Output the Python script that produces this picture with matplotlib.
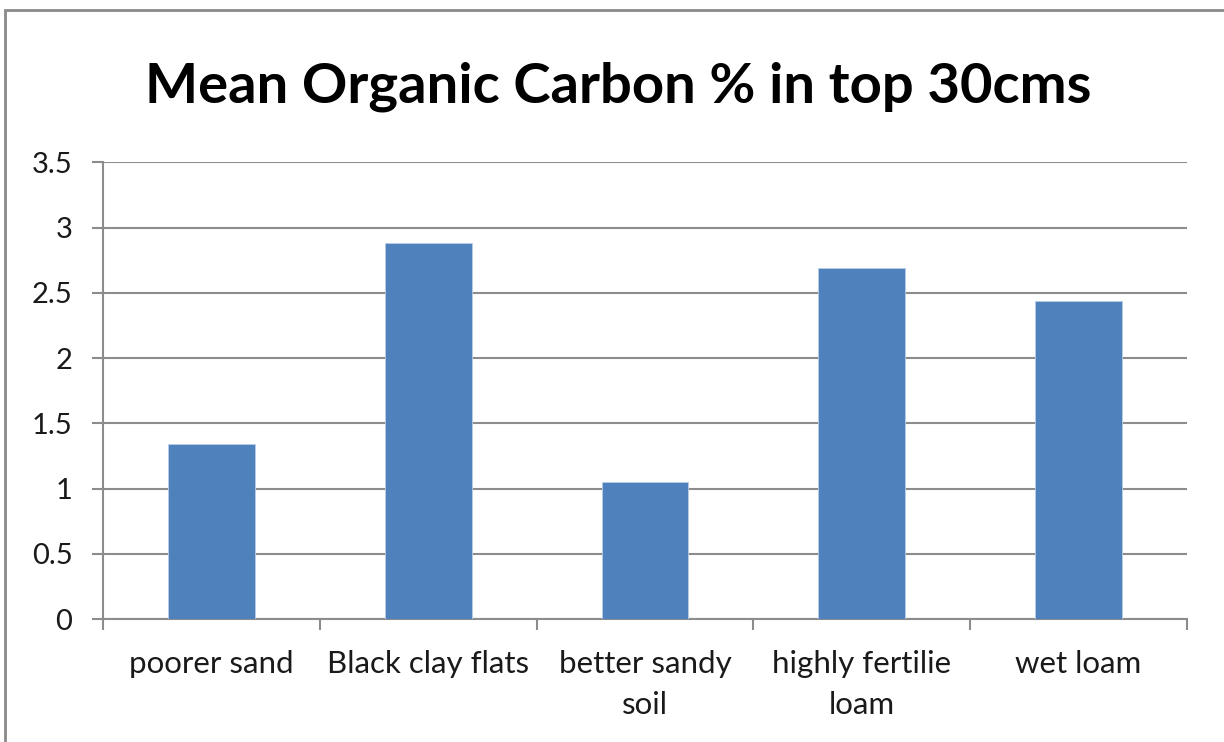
import matplotlib.pyplot as plt
from matplotlib.patches import Rectangle

# Mean organic carbon (%) in the top 30 cm for each soil type
soils = ["poorer sand", "Black clay flats", "better sandy\nsoil",
         "highly fertilie\nloam", "wet loam"]
carbon = [1.34, 2.88, 1.05, 2.69, 2.44]
yticks = [0, 0.5, 1, 1.5, 2, 2.5, 3, 3.5]
ylabels = ["0", "0.5", "1", "1.5", "2", "2.5", "3", "3.5"]

plt.rcParams['font.family'] = ['Lato', 'DejaVu Sans']
grey = '#8c8c8c'

fig = plt.figure(figsize=(12.24, 7.42), dpi=100)
ax = fig.add_axes([103 / 1224, 1 - 619.3 / 742, 1084 / 1224, (619.3 - 162.2) / 742])

x = range(len(soils))
ax.bar(x, carbon, width=0.4, color='#4f81bd', edgecolor='#b9cde5', linewidth=0.6, zorder=3)

ax.set_xlim(-0.5, len(soils) - 0.5)
ax.set_ylim(0, 3.5)
ax.set_yticks(yticks)
ax.set_yticklabels(ylabels, fontsize=21, color='#1a1a1a')
ax.yaxis.grid(True, color=grey, linewidth=1.5, zorder=0)
ax.set_axisbelow(True)

# category labels between boundary ticks
ax.set_xticks([i + 0.5 for i in range(-1, len(soils))])
ax.set_xticklabels([])
ax.set_xticks(list(x), minor=True)
ax.set_xticklabels(soils, minor=True, fontsize=22.5, color='#1a1a1a', linespacing=1.55)
ax.tick_params(axis='x', which='minor', length=0, pad=22)
ax.tick_params(axis='x', which='major', length=8, width=1.5, color=grey)
ax.tick_params(axis='y', length=8, width=1.5, color=grey, pad=14)

for side in ['top', 'right']:
    ax.spines[side].set_visible(False)
for side in ['left', 'bottom']:
    ax.spines[side].set_color(grey)
    ax.spines[side].set_linewidth(1.5)

fig.text(618 / 1224, 1 - 87 / 742, "Mean Organic Carbon % in top 30cms",
         ha='center', va='center', fontsize=40.5, fontweight='bold', color='black')

# chart-area frame
fig.patches.append(Rectangle((5 / 1224, -0.1), 1.2, 1 - 10 / 742 + 0.1,
                             transform=fig.transFigure, fill=False,
                             edgecolor='#8a8a8a', linewidth=2))

fig.savefig('out.png', dpi=100, facecolor='white')
